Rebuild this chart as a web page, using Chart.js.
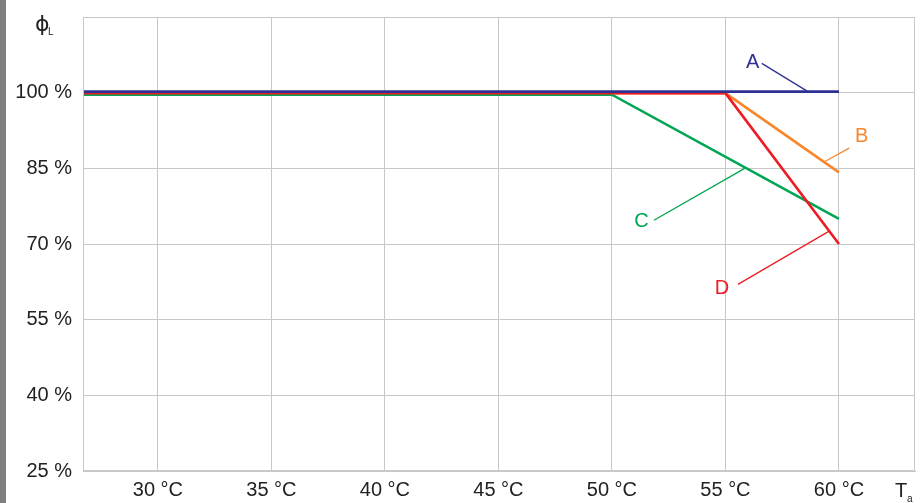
<!DOCTYPE html>
<html><head><meta charset="utf-8">
<script src="https://cdn.jsdelivr.net/npm/chart.js@4/dist/chart.umd.min.js"></script>
<style>html,body{margin:0;padding:0;background:#fff;}#wrap{width:923px;height:503px;position:relative;}</style>
</head><body><div id="wrap"><canvas id="c" width="923" height="503"></canvas></div>
<script>
// Data
const xTicks = [30, 35, 40, 45, 50, 55, 60];
const yTicks = [25, 40, 55, 70, 85, 100];
const xA = [26.7, 60];       const yA = [100.2, 100.2];
const xB = [26.7, 55, 60];   const yB = [99.9, 99.9, 84.2];
const xC = [26.7, 50, 60];   const yC = [99.6, 99.6, 75];
const xD = [26.7, 55, 60];   const yD = [99.9, 99.9, 70];
const seriesNames = ['A', 'B', 'C', 'D'];
// leader lines [x1,y1,x2,y2] and label anchors
const leaderA = [56.6, 105.8, 58.6, 100.3];
const leaderB = [60.45, 89.0, 59.4, 86.4];
const leaderC = [51.85, 74.7, 55.85, 85.0];
const leaderD = [55.55, 62.0, 59.55, 72.5];
const labelPosA = [56.2, 106.0];
const labelPosB = [61.0, 91.4];
const labelPosC = [51.3, 74.4];
const labelPosD = [54.85, 61.1];

const colA = '#2e3192', colB = '#f7862c', colC = '#00a651', colD = '#ed1c24';
const pts = (xs, ys) => xs.map((x, i) => ({x: x, y: ys[i]}));
const seg = l => [{x: l[0], y: l[1]}, {x: l[2], y: l[3]}];
const FONT = '"Liberation Sans", Arial, sans-serif';

const deco = {
  id: 'deco',
  beforeDraw(chart) {
    const ctx = chart.ctx;
    ctx.save();
    ctx.fillStyle = '#7f7f7f';
    ctx.fillRect(0, 0, 6, chart.height);
    ctx.restore();
  },
  afterDatasetsDraw(chart) {
    const ctx = chart.ctx, xs = chart.scales.x, ys = chart.scales.y, a = chart.chartArea;
    ctx.save();
    ctx.strokeStyle = '#c8c8c8';
    ctx.lineWidth = 1;
    ctx.strokeRect(a.left + 0.5, a.top + 0.5, a.right - a.left - 1, a.bottom - a.top - 1);
    ctx.font = '20px ' + FONT;
    ctx.textBaseline = 'middle';
    ctx.textAlign = 'center';
    const labs = [[seriesNames[0], labelPosA, colA], [seriesNames[1], labelPosB, colB], [seriesNames[2], labelPosC, colC], [seriesNames[3], labelPosD, colD]];
    labs.forEach(l => {
      ctx.fillStyle = l[2];
      ctx.fillText(l[0], xs.getPixelForValue(l[1][0]), ys.getPixelForValue(l[1][1]));
    });
    // axis titles
    ctx.fillStyle = '#222';
    ctx.textBaseline = 'alphabetic';
    ctx.textAlign = 'left';
    ctx.font = '22px "DejaVu Sans", sans-serif';
    ctx.fillText('ϕ', 35, 31);
    ctx.font = '10px ' + FONT;
    ctx.fillText('L', 48, 35);
    ctx.font = '20px ' + FONT;
    ctx.fillText('T', 895, 497);
    ctx.font = '10px ' + FONT;
    ctx.fillText('a', 907, 502);
    ctx.restore();
  }
};

const lineDs = (label, data, color, w) => ({label, data, borderColor: color, backgroundColor: color, borderWidth: w, pointRadius: 0, fill: false, tension: 0});

new Chart(document.getElementById('c'), {
  type: 'line',
  data: {
    datasets: [
      lineDs('leaderA', seg(leaderA), colA, 1.3),
      lineDs('leaderB', seg(leaderB), colB, 1.3),
      lineDs('leaderC', seg(leaderC), colC, 1.3),
      lineDs('leaderD', seg(leaderD), colD, 1.3),
      lineDs('A', pts(xA, yA), colA, 2.6),
      lineDs('D', pts(xD, yD), colD, 2.6),
      lineDs('C', pts(xC, yC), colC, 2.6),
      lineDs('B', pts(xB, yB), colB, 2.6)
    ]
  },
  options: {
    responsive: false,
    animation: false,
    devicePixelRatio: 1,
    layout: {padding: {top: 17, right: 8, left: 0, bottom: 0}},
    plugins: {legend: {display: false}, tooltip: {enabled: false}},
    scales: {
      x: {
        type: 'linear', min: 26.7, max: 63.35,
        afterBuildTicks: s => { s.ticks = xTicks.map(v => ({value: v})); },
        afterFit: s => { s.height = 32; s.paddingLeft = 0; s.paddingRight = 0; },
        grid: {color: '#c8c8c8', lineWidth: 1, drawTicks: false},
        border: {color: '#c8c8c8'},
        ticks: {padding: 7, color: '#222', font: {size: 20, family: FONT}, maxRotation: 0, callback: v => v + ' °C'}
      },
      y: {
        type: 'linear', min: 25, max: 115,
        afterBuildTicks: s => { s.ticks = yTicks.map(v => ({value: v})); },
        afterFit: s => { s.width = 83; s.paddingTop = 0; s.paddingBottom = 0; },
        grid: {color: '#c8c8c8', lineWidth: 1, drawTicks: false},
        border: {color: '#c8c8c8'},
        ticks: {padding: 11, color: '#222', font: {size: 20, family: FONT}, callback: v => v + ' %'}
      }
    }
  },
  plugins: [deco]
});
</script></body></html>
